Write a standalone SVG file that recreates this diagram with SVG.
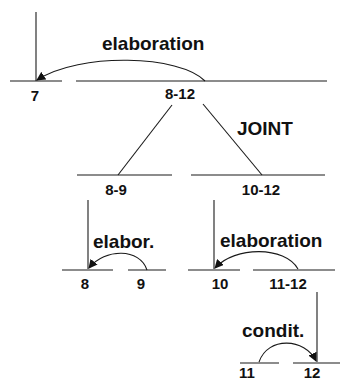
<svg xmlns="http://www.w3.org/2000/svg" width="340" height="381" viewBox="0 0 340 381">
  <style>
    .span { stroke: #1a1a1a; stroke-width: 1.2; fill: none; }
    .link { stroke: #1a1a1a; stroke-width: 1.1; fill: none; }
    .num { font-family: "Liberation Sans", Arial, sans-serif; font-weight: bold; font-size: 15px; fill: #111; text-anchor: middle; }
    .rel { font-family: "Liberation Sans", Arial, sans-serif; font-weight: bold; font-size: 19px; fill: #111; }
  </style>
  <defs>
    <marker id="arrow" viewBox="0 0 10 10" refX="9" refY="5" markerWidth="9" markerHeight="9" markerUnits="userSpaceOnUse" orient="auto">
      <path d="M0,0 L10,5 L0,10 Z" fill="#111"/>
    </marker>
  </defs>
  <rect width="340" height="381" fill="#fff"/>

  <!-- text spans -->
  <g id="span-7">
    <line class="span" x1="10" y1="81" x2="62" y2="81"/>
    <text class="num" x="35" y="101">7</text>
  </g>
  <g id="span-8-12">
    <line class="span" x1="76" y1="81" x2="327" y2="81"/>
    <text class="num" x="180" y="99">8-12</text>
  </g>
  <g id="span-8-9">
    <line class="span" x1="77" y1="175" x2="172" y2="175"/>
    <text class="num" x="116" y="195">8-9</text>
  </g>
  <g id="span-10-12">
    <line class="span" x1="191" y1="175" x2="325" y2="175"/>
    <text class="num" x="261" y="195">10-12</text>
  </g>
  <g id="span-8">
    <line class="span" x1="62" y1="270" x2="113" y2="270"/>
    <text class="num" x="85" y="289">8</text>
  </g>
  <g id="span-9">
    <line class="span" x1="128" y1="270" x2="166" y2="270"/>
    <text class="num" x="141" y="289">9</text>
  </g>
  <g id="span-10">
    <line class="span" x1="188" y1="270" x2="240" y2="270"/>
    <text class="num" x="220" y="289">10</text>
  </g>
  <g id="span-11-12">
    <line class="span" x1="253" y1="270" x2="335" y2="270"/>
    <text class="num" x="288" y="289">11-12</text>
  </g>
  <g id="span-11">
    <line class="span" x1="240" y1="363" x2="279" y2="363"/>
    <text class="num" x="247" y="378">11</text>
  </g>
  <g id="span-12">
    <line class="span" x1="293" y1="363" x2="340" y2="363"/>
    <text class="num" x="312" y="378">12</text>
  </g>

  <!-- relations and tree links -->
  <g id="connectors">
    <line class="link" x1="36" y1="12" x2="36" y2="81"/>
    <path class="link" d="M205,81 C180,55 80,52 37,80" marker-end="url(#arrow)"/>
    <line class="link" x1="172" y1="105" x2="118" y2="175"/>
    <line class="link" x1="203" y1="104" x2="262" y2="175"/>
    <line class="link" x1="88" y1="200" x2="88" y2="269"/>
    <path class="link" d="M147,270 C140,248 105,248 89,268" marker-end="url(#arrow)"/>
    <line class="link" x1="214" y1="200" x2="214" y2="269"/>
    <path class="link" d="M298,269 C285,246 235,246 215,268" marker-end="url(#arrow)"/>
    <line class="link" x1="317" y1="292" x2="317" y2="362"/>
    <path class="link" d="M259,362 C268,336 305,338 316,361" marker-end="url(#arrow)"/>
  </g>

  <!-- relation labels -->
  <text class="rel" x="102" y="50">elaboration</text>
  <text class="rel" x="237" y="135">JOINT</text>
  <text class="rel" x="93" y="248">elabor.</text>
  <text class="rel" x="220" y="247">elaboration</text>
  <text class="rel" x="242" y="337">condit.</text>
</svg>
